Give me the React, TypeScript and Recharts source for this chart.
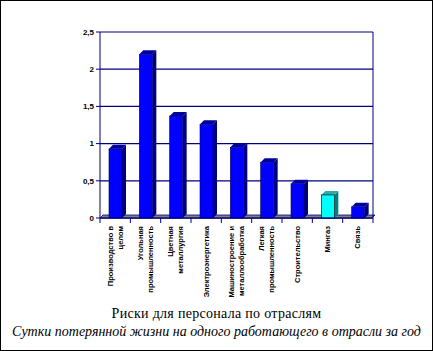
import React from "react";
import { BarChart, Bar, XAxis, YAxis, CartesianGrid, ReferenceArea } from "recharts";

const categories = [
  "Производство в\nцелом",
  "Угольная\nпромышленность",
  "Цветная\nметаллургия",
  "Электроэнергетика",
  "Машиностроение и\nметаллообработка",
  "Легкая\nпромышленность",
  "Строительство",
  "Мингаз",
  "Связь",
];
const values = [0.93, 2.2, 1.37, 1.26, 0.95, 0.75, 0.46, 0.31, 0.15];
const yTicks = [0, 0.5, 1, 1.5, 2, 2.5];
const highlighted = "Мингаз";

const chartData = categories.map((name, i) => ({ name, value: values[i] }));

const NAVY = "#000080";
const HALF_BAND = 273 / categories.length / 2;

const Bar3D = (props: any) => {
  const { x, y, width, height, payload } = props;
  const d = 4;
  const hi = payload.name === highlighted;
  const front = hi ? "#00ffff" : "#0000ff";
  const side = hi ? "#008080" : NAVY;
  const top = hi ? "#33aaaa" : "#0000a0";
  return (
    <g>
      <polygon
        points={`${x + width},${y} ${x + width + d},${y - d} ${x + width + d},${y + height - d} ${x + width},${y + height}`}
        fill={side}
      />
      <polygon
        points={`${x},${y} ${x + d},${y - d} ${x + width + d},${y - d} ${x + width},${y}`}
        fill={top}
      />
      <rect x={x} y={y} width={width} height={height} fill={front} stroke={hi ? "#000" : "#000060"} strokeWidth={0.6} />
    </g>
  );
};

const Floor = (props: any) => {
  const { x, y, width, height } = props;
  const b = y + height;
  return (
    <polygon
      points={`${x},${b} ${x + 3},${b - 3} ${x + width + 2},${b - 3} ${x + width - 1},${b}`}
      fill="#808080"
      stroke={NAVY}
      strokeWidth={0.8}
    />
  );
};

const CategoryTick = (props: any) => {
  const { x, y, payload, index } = props;
  const lines = String(payload.value).split("\n");
  const lh = 10;
  return (
    <g>
      <line x1={x - HALF_BAND} y1={y - 8} x2={x - HALF_BAND} y2={y - 3} stroke={NAVY} />
      {index === categories.length - 1 && (
        <line x1={x + HALF_BAND} y1={y - 8} x2={x + HALF_BAND} y2={y - 3} stroke={NAVY} />
      )}
      <g transform={`translate(${x},${y}) rotate(-90)`}>
        {lines.map((ln, i) => (
          <text
            key={i}
            x={0}
            y={-((lines.length - 1) * lh) / 2 + i * lh + 2.5}
            textAnchor="end"
            fontSize={7.5}
            fontWeight="bold"
            fontFamily="Liberation Sans, Arial, sans-serif"
            fill="#000"
          >
            {ln}
          </text>
        ))}
      </g>
    </g>
  );
};

export default function App() {
  return (
    <div style={{ position: "absolute", left: 0, top: 0, width: 433, height: 351, background: "#fff" }}>
      <BarChart
        width={433}
        height={351}
        data={chartData}
        margin={{ top: 32, right: 59, left: 0, bottom: 33 }}
        barSize={13}
      >
        <CartesianGrid vertical={false} stroke={NAVY} strokeWidth={1.2} />
        <ReferenceArea y1={0} y2={0.02} shape={<Floor />} ifOverflow="visible" />
        <XAxis
          dataKey="name"
          interval={0}
          height={100}
          tickLine={false}
          axisLine={{ stroke: NAVY }}
          tick={<CategoryTick />}
          tickSize={0}
          tickMargin={8}
        />
        <YAxis
          width={100}
          domain={[0, 2.5]}
          ticks={yTicks}
          interval={0}
          axisLine={{ stroke: NAVY }}
          tickLine={{ stroke: NAVY }}
          tickSize={4}
          tick={{ fontSize: 8, fontWeight: "bold", fill: "#000", fontFamily: "Liberation Sans, Arial, sans-serif" }}
          tickFormatter={(v: number) => String(v).replace(".", ",")}
        />
        <YAxis
          yAxisId="right"
          orientation="right"
          width={1}
          domain={[0, 2.5]}
          tick={false}
          tickLine={false}
          axisLine={{ stroke: NAVY }}
        />
        <Bar dataKey="value" shape={<Bar3D />} isAnimationActive={false} />
      </BarChart>
      <div
        style={{
          position: "absolute",
          left: 0,
          top: 305,
          width: 433,
          textAlign: "center",
          fontFamily: "Liberation Serif, Times New Roman, serif",
          fontSize: 14,
          lineHeight: "18px",
          color: "#000",
        }}
      >
        <div style={{ letterSpacing: 0.3 }}>Риски для персонала по отраслям</div>
        <div style={{ fontStyle: "italic" }}>Сутки потерянной жизни на одного работающего в отрасли за год</div>
      </div>
      <div
        style={{
          position: "absolute",
          left: 0,
          top: 0,
          width: 433,
          height: 351,
          boxSizing: "border-box",
          border: "1px solid #000",
          pointerEvents: "none",
        }}
      />
    </div>
  );
}
